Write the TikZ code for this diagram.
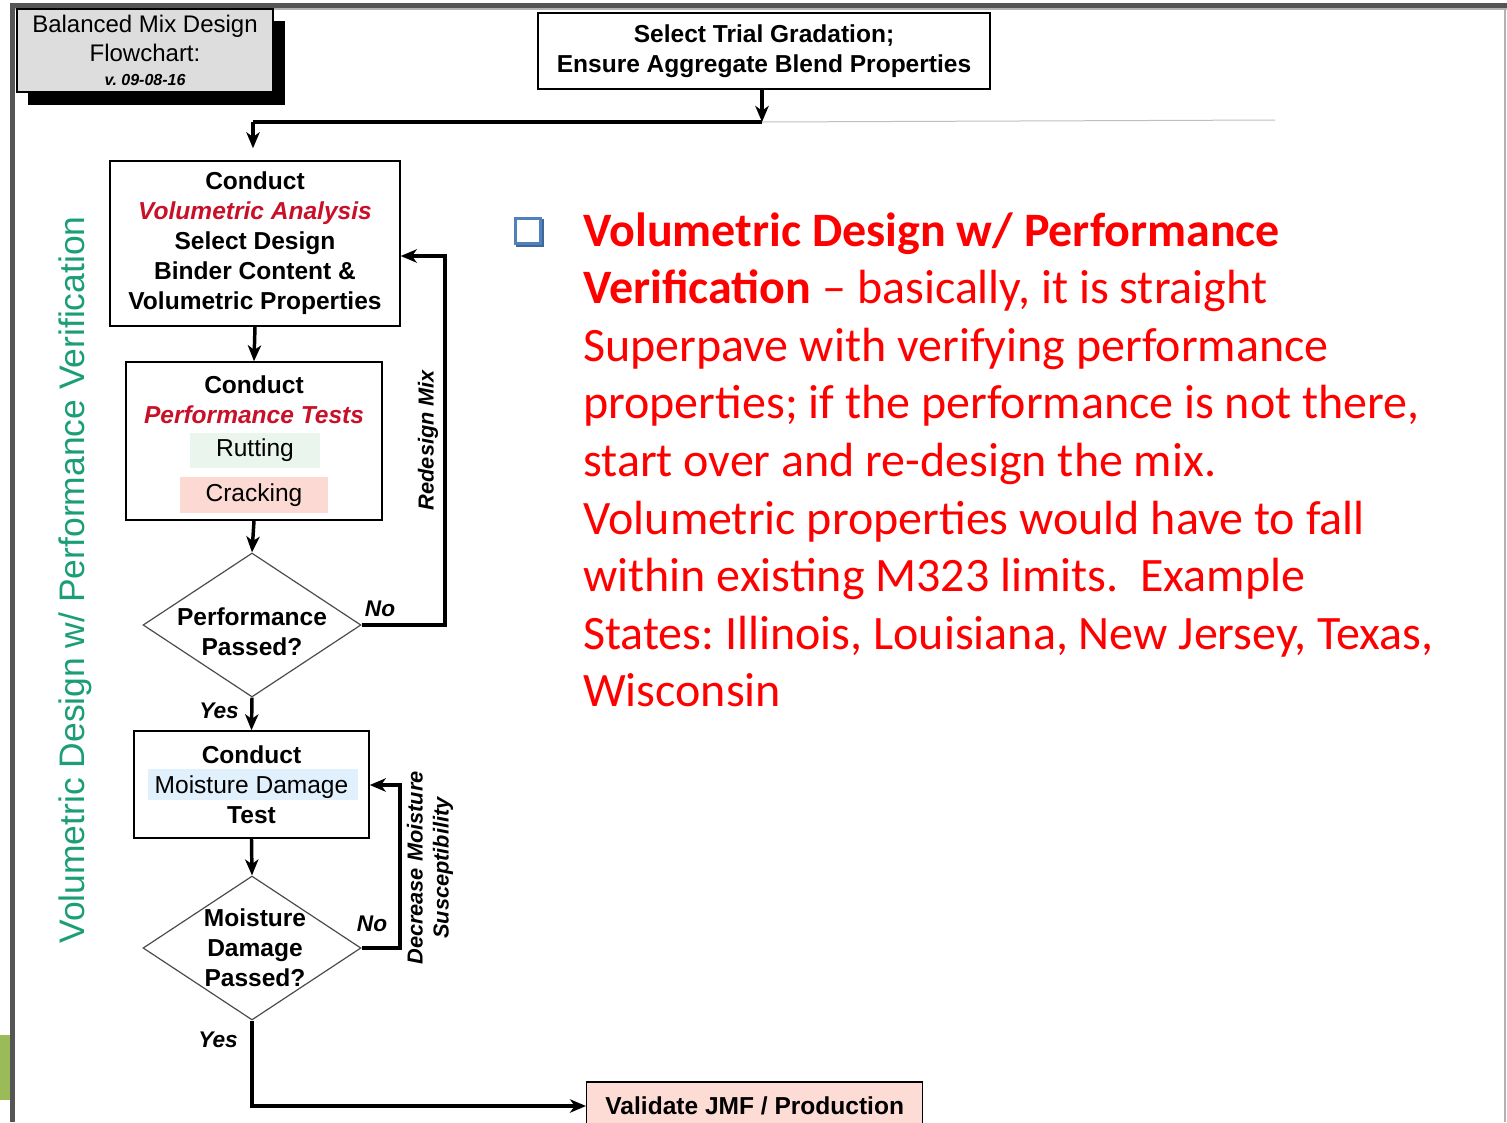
\documentclass[tikz,border=0pt]{standalone}
\usepackage{fontspec}
\setmainfont{Liberation Sans}
\newfontfamily\slidefont{Carlito}
\usetikzlibrary{shapes.geometric,arrows.meta,shadows}

\definecolor{framegray}{RGB}{85,85,85}
\definecolor{titlegray}{RGB}{221,221,221}
\definecolor{flowred}{RGB}{200,16,40}
\definecolor{slidered}{RGB}{255,0,0}
\definecolor{sidegreen}{RGB}{27,158,119}
\definecolor{rutgreen}{RGB}{234,245,238}
\definecolor{crackpink}{RGB}{252,217,211}
\definecolor{mdblue}{RGB}{224,240,252}
\definecolor{jmfpink}{RGB}{253,220,213}
\definecolor{bulletblue}{RGB}{79,129,189}
\definecolor{tabgreen}{RGB}{155,187,89}

\newcommand\flowfont{\fontsize{18.4}{22.5}\selectfont\bfseries}
\newcommand\sidefont{\fontsize{16.3}{19.5}\selectfont\bfseries\itshape}
\frenchspacing

\begin{document}
\begin{tikzpicture}[x=0.75pt,y=-0.75pt,
    box/.style={draw,line width=1.1pt,inner sep=0pt,align=center,font=\flowfont},
    decision/.style={diamond,draw=black!70,line width=0.9pt,minimum width=163.5pt,
        minimum height=108pt,inner sep=0pt},
    txt/.style={inner sep=0pt,align=center,font=\flowfont},
    tag/.style={inner sep=0pt,font=\fontsize{17}{20}\selectfont\bfseries\itshape},
    arr/.style={line width=2.6pt,-{Stealth[length=12pt,width=10pt,inset=3.5pt]}},
    con/.style={line width=2.6pt},
    slideline/.style={inner sep=0pt,anchor=base west,text=slidered,
        font=\slidefont\fontsize{36}{43.2}\selectfont}]
    \useasboundingbox (0,0) rectangle (1507,1122);
    \clip (0,0) rectangle (1507,1122);

    % slide frame
    \fill[framegray] (10,3) rectangle (1507,8);
    \fill[framegray] (10,3) rectangle (15,1122);
    \draw[black!30,line width=1pt] (15,9) -- (1507,9);
    \draw[black!30,line width=1pt] (1505,9) -- (1505,1122);
    \fill[tabgreen] (0,1035) rectangle (10,1100);

    % title and first step
    \node[box,font=\fontsize{18}{21.75}\selectfont,line width=1pt,fill=titlegray,
        minimum width=192pt,minimum height=62.25pt,
        copy shadow={shadow xshift=8.5pt,shadow yshift=-9.5pt,fill=black,draw=black}]
        (title) at (145,50.5)
        {Balanced Mix Design\\Flowchart:\\[-4pt]{\fontsize{12}{14}\selectfont\bfseries\itshape v. 09-08-16}};
    \node[box,minimum width=339pt,minimum height=57pt] (gradation) at (764,51)
        {Select Trial Gradation;\\Ensure Aggregate Blend Properties};

    \coordinate (j1) at (762,122);
    \coordinate (j2) at (253,122);
    \coordinate (ruleend) at (1275,120);
    \draw[black!25,line width=0.75pt] (j1) -- (ruleend);

    % main chain
    \node[box,minimum width=217.5pt,minimum height=123.75pt] (volume) at (255,243.5)
        {Conduct\\{\color{flowred}\itshape Volumetric Analysis}\\Select Design\\Binder Content \&\\Volumetric Properties};

    \node[box,minimum width=192pt,minimum height=118.5pt] (perf) at (254,441) {};
    \node[txt] (perftitle) at (254,399.5) {Conduct\\{\color{flowred}\itshape Performance Tests}};
    \node[txt,font=\fontsize{18.4}{22.5}\selectfont,fill=rutgreen,minimum width=97.5pt,
        minimum height=26.25pt] (rut) at (255,450) {Rutting};
    \node[txt,font=\fontsize{18.4}{22.5}\selectfont,fill=crackpink,minimum width=111pt,
        minimum height=27pt] (crack) at (254,495) {Cracking};

    \node[decision] (d1) at (252,625) {};
    \node[txt] (d1text) at (252,631.5) {Performance\\Passed?};

    \node[txt,fill=mdblue,minimum width=157.5pt,minimum height=23.25pt] (mdfill) at (253,784.5) {};
    \node[box,minimum width=176.25pt,minimum height=80.25pt] (moist) at (251.5,784.5)
        {Conduct\\{\mdseries Moisture Damage}\\Test};

    \node[decision] (d2) at (252,948) {};
    \node[txt] (d2text) at (255,948) {Moisture\\Damage\\Passed?};

    \node[box,fill=jmfpink,minimum width=252pt,minimum height=36pt,anchor=west]
        (jmf) at (586,1106) {Validate JMF / Production};

    % connectors
    \draw[arr] (j1 |- gradation.south) -- (j1);
    \draw[con] (j1) -- (j2);
    \draw[arr,shorten >=9pt] (j2) -- (j2 |- volume.north);
    \draw[arr] (volume.south) -- (perf.north);
    \draw[arr] (perf.south) -- (d1.north);
    \draw[arr] (d1.south) -- (moist.north);
    \draw[arr] (moist.south) -- (d2.north);
    \draw[arr] (d2.south) |- (jmf.west);

    \coordinate (loop1) at (445,256);
    \coordinate (loop2) at (400,785);
    \draw[arr] (d1.east) -| (loop1) -- (loop1 -| volume.east);
    \draw[arr] (d2.east) -| (loop2) -- (loop2 -| moist.east);

    % labels
    \node[tag] (no1) at (380,609) {No};
    \node[tag] (no2) at (372,924) {No};
    \node[tag] (yes1) at (219,711) {Yes};
    \node[tag] (yes2) at (218,1040) {Yes};
    \node[inner sep=0pt,font=\sidefont,rotate=90] (redesign) at (428,440) {Redesign Mix};
    \node[inner sep=0pt,font=\sidefont,align=center,rotate=90] (decrease) at (430,868)
        {Decrease Moisture\\Susceptibility};
    \node[inner sep=0pt,text=sidegreen,font=\fontsize{26.6}{30}\selectfont,rotate=90]
        (sidelabel) at (75,580) {Volumetric Design w/ Performance Verification};

    % bullet text
    \node[draw=bulletblue,line width=2pt,fill=white,minimum size=19pt,inner sep=0pt,
        copy shadow={shadow xshift=1.2pt,shadow yshift=-1.2pt,fill=bulletblue!80!black,draw=bulletblue!80!black}]
        (bullet) at (528,231) {};
    \foreach \ln [count=\k from 0] in {
        {{\bfseries Volumetric Design w/ Performance}},
        {{\bfseries Verification} – basically, it is straight},
        {Superpave with verifying performance},
        {properties; if the performance is not there,},
        {start over and re-design the mix.},
        {Volumetric properties would have to fall},
        {within existing M323 limits.~ Example},
        {States: Illinois, Louisiana, New Jersey, Texas,},
        {Wisconsin}}
        \node[slideline] (line\k) at (583,{246+57.6*\k}) {\ln};
\end{tikzpicture}
\end{document}
